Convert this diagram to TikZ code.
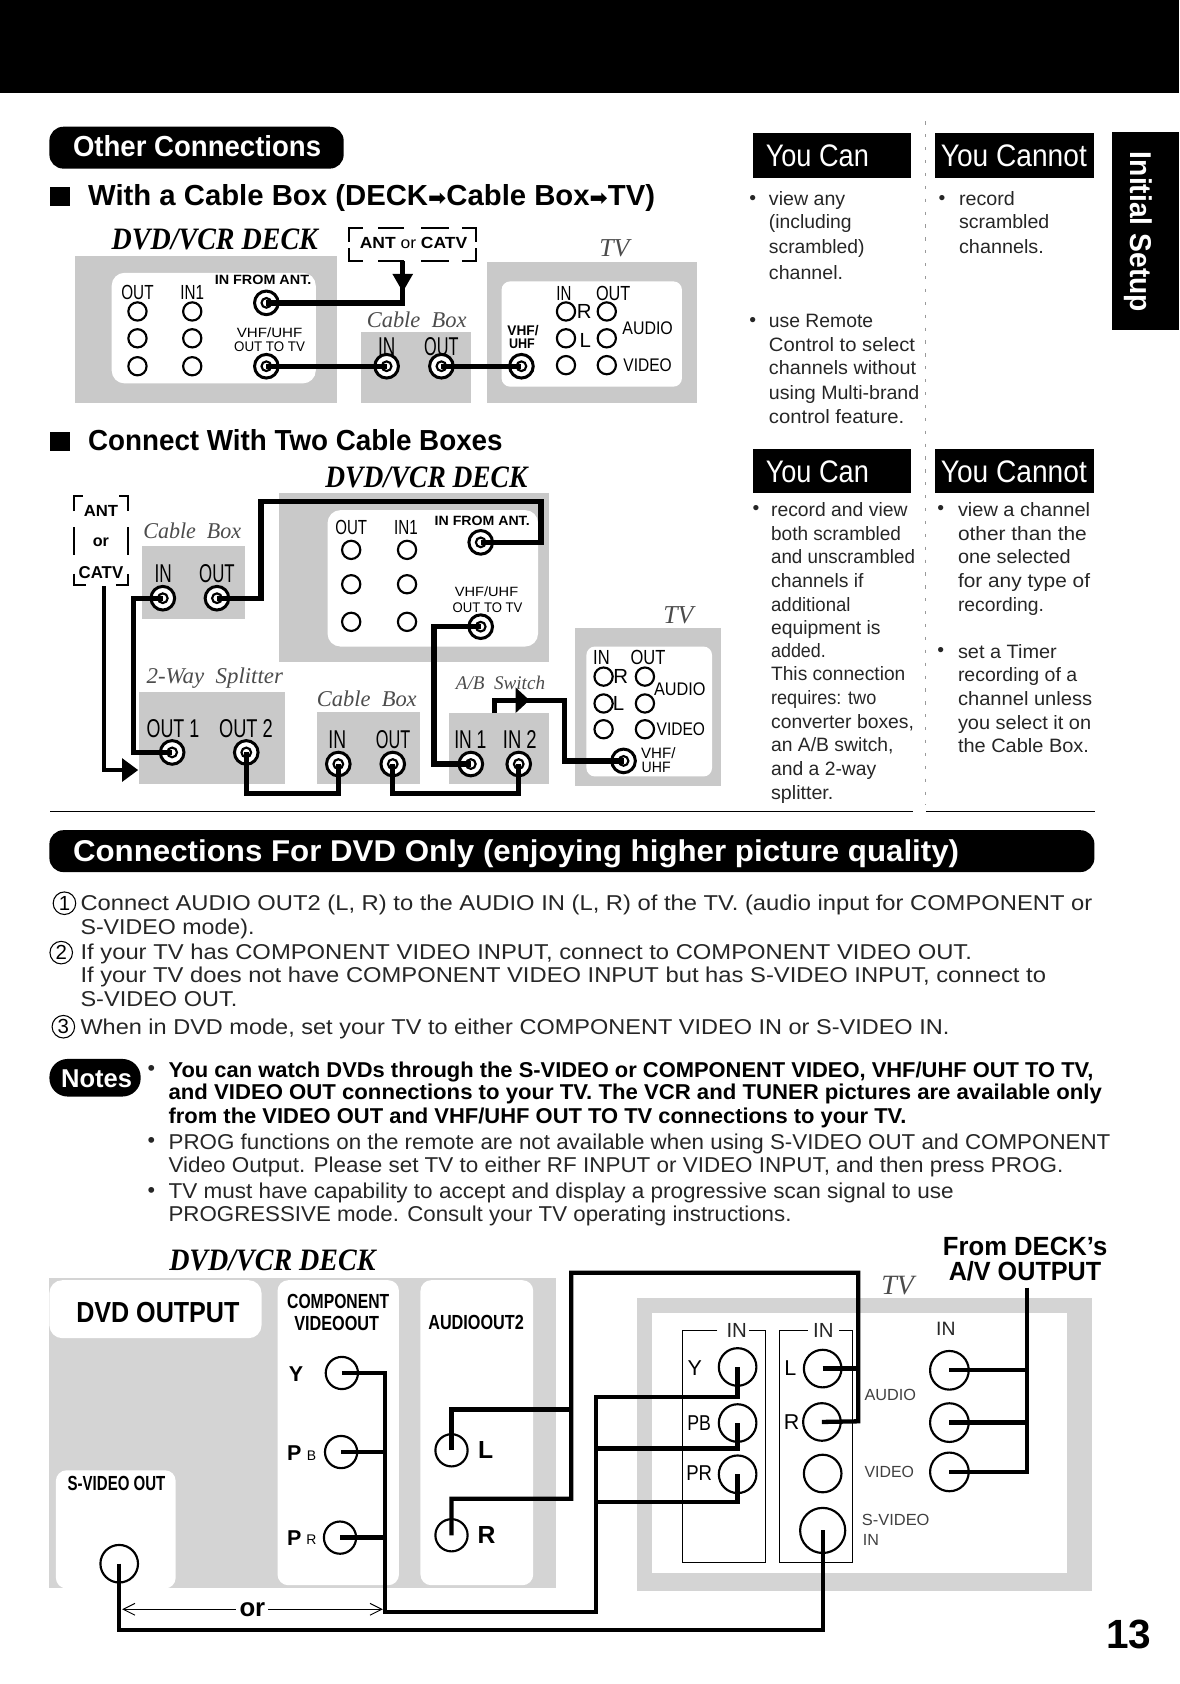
\documentclass[tikz,border=0pt]{standalone}
\usepackage{fontspec}
\usepackage{graphicx}
\usetikzlibrary{arrows.meta}
\setmainfont{Liberation Sans}
\newfontfamily\srf{Liberation Serif}
\newfontfamily\djf{DejaVu Sans}
\newcommand\fs[1]{\fontsize{#1}{#1}\selectfont}
\newcounter{tn}
\newcommand\TX[5]{\stepcounter{tn}\node[txt,anchor=base west] (t\arabic{tn}) at (#1,#2) {#4\resizebox{#3pt}{\height}{#5}};}
\newcommand\TW[5]{\stepcounter{tn}\node[txt,anchor=center] (t\arabic{tn}) at (#1,#2) {#4\resizebox{#3pt}{\height}{#5}};}
\newcommand\TC[4]{\stepcounter{tn}\node[txt,anchor=center] (t\arabic{tn}) at (#1,#2) {#3#4};}
\newcommand\body{\fs{18}\color{black!85}}
\newcommand\para{\fs{20}\color{black!85}}
\newcommand\deckf{\srf\bfseries\itshape\fs{29}}
\newcommand\itf{\srf\itshape\fs{21}\color{black!70}}
\colorlet{dith}{black!21}
\tikzset{
  txt/.style={inner sep=0pt,outer sep=0pt,text=black},
  wire/.style={line width=5pt,line join=miter,draw=black},
  wirem/.style={line width=4pt,line join=miter,draw=black},
  port/.style={circle,draw=black,line width=2pt,minimum size=17pt,inner sep=0pt},
  jack/.style={circle,draw=black,fill=white,line width=2.8pt,minimum size=22pt,inner sep=0pt,
     path picture={\draw[line width=2pt] (path picture bounding box.center) circle (4.5pt);}},
  bport/.style={circle,draw=black,line width=2pt,minimum size=#1,inner sep=0pt},
  thinbox/.style={draw=black,line width=0.9pt},
  bracket/.style={draw=black,line width=2pt},
  sep/.style={draw=black!40,line width=0.7pt,dash pattern=on 3pt off 9pt},
  numc/.style={circle,draw=black,line width=1pt,minimum size=21pt,inner sep=0pt,font=\fs{19}},
}
\begin{document}
\begin{tikzpicture}[x=1pt,y=-1pt]
\useasboundingbox (0,0) rectangle (1098,1568);
\fill[white] (0,0) rectangle (1098,1568);
% header band and tab
\fill[black] (0,0) rectangle (1098,87);
\fill[black] (1035,123) rectangle (1098,307);
\stepcounter{tn}\node[txt,rotate=-90,text=white] (t\arabic{tn}) at (1060,216) {\fs{28}\bfseries\resizebox{149pt}{\height}{Initial Setup}};
% page title pill
\fill[black,rounded corners=13pt] (46,118) rectangle (320,157);
\TX{68}{146}{231}{\fs{27}\bfseries\color{white}}{Other Connections}
\fill[black] (47,174) rectangle (65,192);
\TX{82}{191}{528}{\fs{27}\bfseries}{With a Cable Box (DECK{\djf\fs{20}➡}Cable Box{\djf\fs{20}➡}TV)}
% ---------- section 1 ----------
\TX{104}{232}{192}{\deckf}{DVD/VCR DECK}
\fill[dith] (70,238) rectangle (314,375);
\fill[white,rounded corners=12pt] (104,254) rectangle (294,357);
\fill[dith] (336,309) rectangle (439,375);
\fill[dith] (453,244) rectangle (649,375);
\fill[white,rounded corners=8pt] (467,262) rectangle (635,360);
\path (385,226) node[txt] (ant) {\fs{15}\bfseries\resizebox{100pt}{\height}{ANT {\mdseries or} CATV}};
\draw[bracket] (325,225) -- (325,212) -- (338,212) (352,212) -- (376,212) (392,212) -- (418,212) (430,212) -- (443,212) -- (443,225)
  (325,231) -- (325,243) -- (338,243) (352,243) -- (376,243) (392,243) -- (418,243) (430,243) -- (443,243) -- (443,231);
\TW{128}{272}{30}{\fs{19}}{OUT}
\TW{179}{272}{22}{\fs{19}}{IN1}
\foreach \n/\x/\y in {a/128/290,b/128/315,c/128/341,d/179/290,e/179/315,f/179/341}{\node[port] (p1\n) at (\x,\y) {};}
\TW{245}{261}{90}{\fs{12.5}\bfseries}{IN FROM ANT.}
\TW{251}{310}{61}{\fs{12.5}}{VHF/UHF}
\TW{251}{323}{66}{\fs{13}}{OUT TO TV}
\node[jack] (j1ant) at (248,282) {};
\node[jack] (j1out) at (248,341) {};
\TC{388}{298}{\itf}{\resizebox{93pt}{\height}{Cable\ \ Box}}
\TW{360}{323}{16}{\fs{24}}{IN}
\TW{411}{323}{32}{\fs{24}}{OUT}
\node[jack] (j1cin) at (360,341) {};
\node[jack] (j1cout) at (411,341) {};
\TC{572}{231}{\srf\itshape\fs{24}\color{black!70}}{TV}
\TW{525}{273}{14}{\fs{19}}{IN}
\TW{571}{273}{32}{\fs{19}}{OUT}
\foreach \n/\x/\y in {a/527/290,b/527/315,c/527/340,d/565/290,e/565/315,f/565/340}{\node[port] (p2\n) at (\x,\y) {};}
\TC{544}{290}{\fs{19}}{R}
\TC{545}{317}{\fs{19}}{L}
\TW{603}{306}{47}{\fs{17}}{AUDIO}
\TW{603}{340}{45}{\fs{17}}{VIDEO}
\TW{487}{308}{29}{\fs{13}\bfseries}{VHF/}
\TW{486}{320}{24}{\fs{13}\bfseries}{UHF}
\node[jack] (j1tv) at (485.5,341) {};
\coordinate (antb) at (375,243);
\draw[wire] (j1ant.center) -- (375,282) -- (375,262);
\draw[wire,-{Triangle[length=17pt,width=18pt]}] (antb) -- (375,272);
\draw[wire] (j1out.center) -- (j1cin.center);
\draw[wire] (j1cout.center) -- (j1tv.center);
% ---------- section 2 ----------
\fill[black] (47,402) rectangle (65,420);
\TX{82}{419}{386}{\fs{27}\bfseries}{Connect With Two Cable Boxes}
\TX{303}{454}{188}{\deckf}{DVD/VCR DECK}
\fill[dith] (260,459) rectangle (511,616);
\fill[white,rounded corners=12pt] (305,475) rectangle (501,602);
\fill[dith] (132,508) rectangle (228,576);
\fill[dith] (129,644) rectangle (265,730);
\fill[dith] (295,663) rectangle (391,730);
\fill[dith] (418,664) rectangle (511,730);
\fill[dith] (535,585) rectangle (671,732);
\fill[white,rounded corners=8pt] (546,602) rectangle (663,723);
\draw[bracket] (69,476) -- (69,462) -- (77,462) (111,462) -- (119,462) -- (119,476)
  (69,491) -- (69,517) (119,491) -- (119,517)
  (69,534) -- (69,545) -- (80,545) (108,545) -- (119,545) -- (119,534);
\TW{94}{476}{32}{\fs{15}\bfseries}{ANT}
\TW{94}{505}{15}{\fs{15}\bfseries}{or}
\node[txt] (catv) at (94,533) {\fs{16}\bfseries\resizebox{41.5pt}{\height}{CATV}};
\TC{179}{494}{\itf}{\resizebox{91pt}{\height}{Cable\ \ Box}}
\TW{152}{534}{16}{\fs{24}}{IN}
\TW{202}{534}{33}{\fs{24}}{OUT}
\node[jack] (j2cin) at (151.6,557) {};
\node[jack] (j2cout) at (202,557) {};
\TW{327}{491}{29.5}{\fs{19}}{OUT}
\TW{378}{491}{22}{\fs{19}}{IN1}
\foreach \n/\x/\y in {a/327/512,b/327/544,c/327/579,d/379/512,e/379/544,f/379/579}{\node[port] (p3\n) at (\x,\y) {};}
\TW{449}{485}{88.5}{\fs{12.5}\bfseries}{IN FROM ANT.}
\TW{453}{551}{59}{\fs{12.5}}{VHF/UHF}
\TW{454}{565.5}{65}{\fs{13}}{OUT TO TV}
\node[jack] (j2ant) at (447.6,505) {};
\node[jack] (j2out) at (447.6,583.5) {};
\TC{200}{631}{\itf}{\resizebox{127pt}{\height}{2-Way\ \ Splitter}}
\TW{161}{678}{49}{\fs{24}}{OUT 1}
\TW{229}{678}{50}{\fs{24}}{OUT 2}
\node[jack] (j2o1) at (160.3,700.6) {};
\node[jack] (j2o2) at (229.3,700.6) {};
\TC{341.5}{651}{\itf}{\resizebox{93pt}{\height}{Cable\ \ Box}}
\TW{314}{689}{16.5}{\fs{24}}{IN}
\TW{366}{689}{32}{\fs{24}}{OUT}
\node[jack] (j2bin) at (315,711.4) {};
\node[jack] (j2bout) at (365.7,711.4) {};
\TC{466}{636}{\srf\itshape\fs{18}\color{black!70}}{\resizebox{83pt}{\height}{A/B\ \ Switch}}
\TW{438}{689}{30}{\fs{24}}{IN 1}
\TW{484}{689}{31.5}{\fs{24}}{IN 2}
\node[jack] (j2s1) at (438.4,711.4) {};
\node[jack] (j2s2) at (483,711.4) {};
\TC{631.7}{573}{\srf\itshape\fs{24}\color{black!70}}{TV}
\TW{560}{612}{15.4}{\fs{19}}{IN}
\TW{603.4}{612}{32.4}{\fs{19}}{OUT}
\foreach \n/\x/\y in {a/562/630,b/562/655,c/562/679,d/600.5/630,e/600.5/655,f/600.5/679}{\node[port] (p4\n) at (\x,\y) {};}
\TC{578}{630}{\fs{19}}{R}
\TC{576}{655}{\fs{19}}{L}
\TW{633}{642}{48}{\fs{17}}{AUDIO}
\TW{634}{679}{45}{\fs{17}}{VIDEO}
\TW{613}{701.5}{32}{\fs{14}}{VHF/}
\TW{611}{714.5}{27}{\fs{14}}{UHF}
\node[jack] (j2tv) at (580.6,708.5) {};
\coordinate (catvb) at (96.7,546);
\coordinate (splitw) at (128.7,717);
\draw[wirem,-{Triangle[length=15pt,width=21pt]}] (catvb) -- (96.7,717) -- (splitw);
\draw[wire] (j2cout.center) -- (243,557) -- (243,467) -- (503.7,467) -- (503.7,505) -- (j2ant.center);
\draw[wire] (j2cin.center) -- (124.5,557) -- (124.5,700.6) -- (j2o1.center);
\draw[wire] (j2o2.center) -- (229.3,739) -- (315,739) -- (j2bin.center);
\draw[wire] (j2bout.center) -- (365.7,739) -- (483,739) -- (j2s2.center);
\draw[wire] (j2out.center) -- (404,583.5) -- (404,711.4) -- (j2s1.center);
\coordinate (absw) at (460.4,664);
\draw[wire] (absw) -- (460.4,652) -- (525.7,652) -- (525.7,708.5) -- (j2tv.center);
\fill[black] (480,640) -- (493,652) -- (480,664) -- cycle;
% rule
\draw[black,line width=1pt] (47,756) -- (850,756);
\draw[black,line width=1pt] (862,756) -- (1020,756);
% ---------- You can columns ----------
\draw[sep] (862,113) -- (862,750);
\fill[black] (701,123.5) rectangle (848,165.5);
\fill[black] (871,123.5) rectangle (1019,165.5);
\TX{713}{155}{96}{\fs{29}\color{white}}{You Can}
\TX{876}{155}{136}{\fs{29}\color{white}}{You Cannot}
\TC{701}{186}{\body}{•}
\TX{716}{191}{71}{\body}{view any}
\TX{716}{213}{77}{\body}{(including}
\TX{716}{236}{89}{\body}{scrambled)}
\TX{716}{260}{69}{\body}{channel.}
\TC{701}{300}{\body}{•}
\TX{716}{305}{97}{\body}{use Remote}
\TX{716}{327}{136}{\body}{Control to select}
\TX{716}{349}{137}{\body}{channels without}
\TX{716}{372}{140}{\body}{using Multi-brand}
\TX{716}{394}{126}{\body}{control feature.}
\TC{877}{186}{\body}{•}
\TX{893}{191}{52}{\body}{record}
\TX{893}{213}{84}{\body}{scrambled}
\TX{893}{236}{79}{\body}{channels.}
\fill[black] (701,418) rectangle (848,459);
\fill[black] (871,418) rectangle (1019,459);
\TX{713}{449}{96}{\fs{29}\color{white}}{You Can}
\TX{876}{449}{136}{\fs{29}\color{white}}{You Cannot}
\TC{704}{475}{\body}{•}
\TX{718}{481}{127}{\body}{record and view}
\TX{718}{503}{121}{\body}{both scrambled}
\TX{718}{525}{134}{\body}{and unscrambled}
\TX{718}{547}{86}{\body}{channels if}
\TX{718}{569}{74}{\body}{additional}
\TX{718}{591}{102}{\body}{equipment is}
\TX{718}{612}{51}{\body}{added.}
\TX{718}{634}{125}{\body}{This connection}
\TX{718}{656}{98}{\body}{requires: two}
\TX{718}{678}{133}{\body}{converter boxes,}
\TX{718}{700}{114}{\body}{an A/B switch,}
\TX{718}{722}{98}{\body}{and a 2-way}
\TX{718}{744}{58}{\body}{splitter.}
\TC{876}{475}{\body}{•}
\TX{892}{481}{123}{\body}{view a channel}
\TX{892}{503}{120}{\body}{other than the}
\TX{892}{525}{105}{\body}{one selected}
\TX{892}{547}{123}{\body}{for any type of}
\TX{892}{569}{80}{\body}{recording.}
\TC{876}{607}{\body}{•}
\TX{892}{613}{92}{\body}{set a Timer}
\TX{892}{635}{111}{\body}{recording of a}
\TX{892}{657}{125}{\body}{channel unless}
\TX{892}{679}{124}{\body}{you select it on}
\TX{892}{701}{122}{\body}{the Cable Box.}
% ---------- DVD only ----------
\fill[black,rounded corners=13pt] (46,773) rectangle (1019,812);
\TX{68}{802}{825}{\fs{28}\bfseries\color{white}}{Connections For DVD Only (enjoying higher picture quality)}
\node[numc] (n1) at (60,841) {1};
\node[numc] (n2) at (57,887) {2};
\node[numc] (n3) at (59,956) {3};
\TX{75}{848}{942}{\para}{Connect AUDIO OUT2 (L, R) to the AUDIO IN (L, R) of the TV. (audio input for COMPONENT or}
\TX{75}{870}{162}{\para}{S-VIDEO mode).}
\TX{75}{893}{830}{\para}{If your TV has COMPONENT VIDEO INPUT, connect to COMPONENT VIDEO OUT.}
\TX{75}{915}{899}{\para}{If your TV does not have COMPONENT VIDEO INPUT but has S-VIDEO INPUT, connect to}
\TX{75}{937}{146}{\para}{S-VIDEO OUT.}
\TX{75}{963}{809}{\para}{When in DVD mode, set your TV to either COMPONENT VIDEO IN or S-VIDEO IN.}
% notes
\fill[black,rounded corners=17pt] (46,986) rectangle (131,1021);
\TX{57}{1013}{66}{\fs{24}\bfseries\color{white}}{Notes}
\TC{141}{997}{\para}{•}
\TX{157}{1003}{861}{\para\bfseries\color{black}}{You can watch DVDs through the S-VIDEO or COMPONENT VIDEO, VHF/UHF OUT TO TV,}
\TX{157}{1024}{869}{\para\bfseries\color{black}}{and VIDEO OUT connections to your TV. The VCR and TUNER pictures are available only}
\TX{157}{1046}{687}{\para\bfseries\color{black}}{from the VIDEO OUT and VHF/UHF OUT TO TV connections to your TV.}
\TC{141}{1064}{\para}{•}
\TX{157}{1070}{877}{\para}{PROG functions on the remote are not available when using S-VIDEO OUT and COMPONENT}
\TX{157}{1092}{833}{\para}{Video Output. Please set TV to either RF INPUT or VIDEO INPUT, and then press PROG.}
\TC{141}{1110}{\para}{•}
\TX{157}{1116}{731}{\para}{TV must have capability to accept and display a progressive scan signal to use}
\TX{157}{1137}{580}{\para}{PROGRESSIVE mode. Consult your TV operating instructions.}
% ---------- bottom diagram ----------
\TX{157.6}{1183}{192}{\deckf}{DVD/VCR DECK}
\fill[black!17] (46,1190) rectangle (518,1479);
\fill[white,rounded corners=12pt] (46,1192) rectangle (243.5,1246);
\fill[white,rounded corners=10pt] (258.4,1192) rectangle (371.5,1476);
\fill[white,rounded corners=10pt] (391.5,1192) rectangle (496.5,1476);
\fill[white,rounded corners=10pt] (52,1369) rectangle (163.6,1479);
\fill[black!17] (593,1209) rectangle (1017,1481);
\fill[white] (607.3,1223) rectangle (993.8,1465);
\TX{71}{1231}{152}{\fs{27}\bfseries}{DVD OUTPUT}
\TX{267.4}{1218.5}{95}{\fs{19}\bfseries}{COMPONENT}
\TX{274}{1239}{79}{\fs{19}\bfseries}{VIDEOOUT}
\TX{398.8}{1238}{89}{\fs{19}\bfseries}{AUDIOOUT2}
\TX{63}{1387.6}{91}{\fs{19}\bfseries}{S-VIDEO OUT}
\TC{275.7}{1279}{\fs{20}\bfseries}{Y}
\TC{274}{1353}{\fs{20}\bfseries}{P}
\TC{290}{1355}{\fs{13}}{B}
\TC{274}{1432}{\fs{20}\bfseries}{P}
\TC{290}{1434}{\fs{13}}{R}
\TC{452.3}{1350}{\fs{23}\bfseries}{L}
\TC{453}{1429}{\fs{23}\bfseries}{R}
\node[bport=30pt] (dy) at (318.3,1278.4) {};
\node[bport=30pt] (dpb) at (317.6,1352) {};
\node[bport=30pt] (dpr) at (316.6,1431.7) {};
\node[bport=30pt] (dl) at (420.4,1350.4) {};
\node[bport=30pt] (dr) at (420.4,1429.5) {};
\node[bport=35pt] (ds) at (111,1456) {};
% TV
\TC{835.8}{1196.7}{\srf\itshape\fs{26}\color{black!70}}{TV}
\draw[thinbox] (668,1238.6) -- (635.6,1238.6) -- (635.6,1454.4) -- (712.7,1454.4) -- (712.7,1238.6) -- (697,1238.6);
\draw[thinbox] (752,1238.6) -- (725.4,1238.6) -- (725.4,1454.4) -- (793.6,1454.4) -- (793.6,1238.6) -- (781,1238.6);
\TC{686}{1238.6}{\fs{19}\color{black!85}}{IN}
\TC{766.6}{1238.6}{\fs{19}\color{black!85}}{IN}
\TC{880.7}{1237.7}{\fs{18}\color{black!85}}{IN}
\TC{647}{1274}{\fs{20}}{Y}
\TW{651}{1325}{22}{\fs{20}}{PB}
\TW{651}{1372}{24}{\fs{20}}{PR}
\TC{736}{1274}{\fs{20}}{L}
\TC{737}{1324}{\fs{20}}{R}
\TW{829}{1299}{48}{\fs{15}\color{black!75}}{AUDIO}
\TW{828}{1370.5}{46}{\fs{15}\color{black!75}}{VIDEO}
\TW{834}{1415}{63}{\fs{15}\color{black!75}}{S-VIDEO}
\TC{811}{1434}{\fs{15}\color{black!75}}{IN}
\node[bport=35pt] (ty) at (686.8,1272.8) {};
\node[bport=35pt] (tpb) at (686.8,1325) {};
\node[bport=35pt] (tpr) at (686.8,1372.7) {};
\node[bport=35pt] (tl) at (766,1274.3) {};
\node[bport=35pt] (tr) at (765.3,1324) {};
\node[bport=35pt] (tv) at (766,1372) {};
\node[bport=42pt] (tsv) at (766,1425) {};
\node[bport=36pt] (a1) at (884,1275.9) {};
\node[bport=36pt] (a2) at (884,1324.6) {};
\node[bport=36pt] (a3) at (884,1370.5) {};
\TX{878}{1168.8}{153}{\fs{24.5}\bfseries}{From DECK's}
\TX{883.4}{1192.7}{142}{\fs{24.5}\bfseries}{A/V OUTPUT}
\coordinate (avout) at (956.2,1199);
% wires
\draw[wirem] (dy.center) -- (358.2,1278.4) -- (358.2,1501) -- (554.8,1501) -- (554.8,1300.7) -- (686.8,1300.7) -- (ty.center);
\draw[wirem] (dpb.center) -- (358.2,1352);
\draw[wirem] (dpr.center) -- (358.2,1431.7);
\draw[wirem] (554.8,1348.8) -- (686.8,1348.8) -- (tpb.center);
\draw[wirem] (554.8,1398.5) -- (686.8,1398.5) -- (tpr.center);
\draw[wirem] (dl.center) -- (420.4,1312.5) -- (531.8,1312.5);
\draw[wirem] (dr.center) -- (420.4,1395.4) -- (531.8,1395.4) -- (531.8,1185) -- (799.2,1185) -- (799.2,1323.4) -- (tr.center);
\draw[wirem] (tl.center) -- (799.2,1274.3);
\draw[wirem] (ds.center) -- (111,1518) -- (766,1518) -- (tsv.center);
\draw[wirem] (avout) -- (956.2,1370.5) -- (a3.center);
\draw[wirem] (a1.center) -- (956.2,1275.9);
\draw[wirem] (a2.center) -- (956.2,1324.6);
\coordinate (orl) at (113.7,1498.4);
\coordinate (orr) at (356.5,1498.4);
\draw[line width=0.9pt,{Straight Barb[length=11pt,width=11pt]}-{Straight Barb[length=11pt,width=11pt]}] (orl) -- (orr);
\node[txt,fill=white,inner xsep=3pt] (ortext) at (235,1499) {\fs{24}\bfseries or};
% page number
\TX{1030}{1535}{42}{\fs{38}\bfseries}{13}
\end{tikzpicture}
\end{document}
